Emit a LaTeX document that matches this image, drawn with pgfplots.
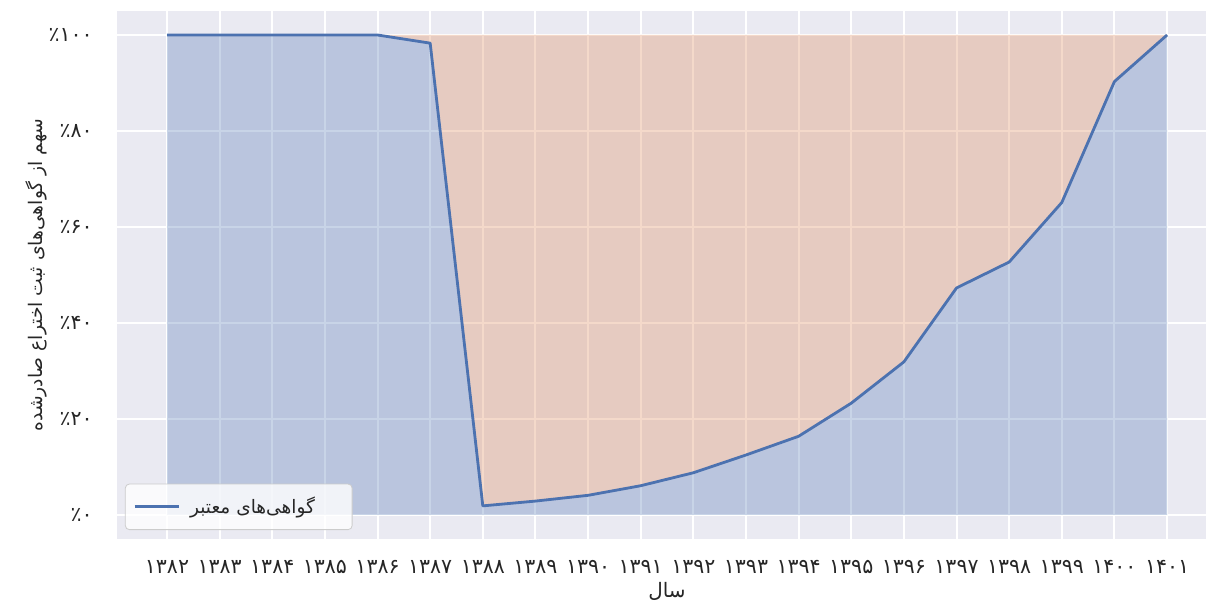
\documentclass[border=0pt]{standalone}
\usepackage{fontspec}
\usepackage{pgfplots}
\pgfplotsset{compat=1.18}
\TeXXeTstate=1
\newfontfamily\arabicfont[Script=Arabic]{DejaVu Sans}
\definecolor{bgc}{HTML}{EAEAF2}
\definecolor{sblue}{HTML}{4C72B0}
\definecolor{sorange}{HTML}{DD8452}
\definecolor{txt}{HTML}{262626}
\begin{document}
\begin{tikzpicture}
\begin{axis}[
  scale only axis, width=544.5bp, height=264bp,
  xmin=1381.05, xmax=1401.74, ymin=-5, ymax=105,
  axis background/.style={fill=bgc},
  axis line style={draw=none},
  major tick length=0pt,
  grid=major, grid style={white, line width=1bp},
  xtick={1382,1383,1384,1385,1386,1387,1388,1389,1390,1391,1392,1393,1394,1395,1396,1397,1398,1399,1400,1401},
  xticklabels={۱۳۸۲,۱۳۸۳,۱۳۸۴,۱۳۸۵,۱۳۸۶,۱۳۸۷,۱۳۸۸,۱۳۸۹,۱۳۹۰,۱۳۹۱,۱۳۹۲,۱۳۹۳,۱۳۹۴,۱۳۹۵,۱۳۹۶,۱۳۹۷,۱۳۹۸,۱۳۹۹,۱۴۰۰,۱۴۰۱},
  ytick={0,20,40,60,80,100},
  yticklabels={٪۰,٪۲۰,٪۴۰,٪۶۰,٪۸۰,٪۱۰۰},
  ticklabel style={font=\arabicfont\fontsize{10.3}{12}\selectfont, text=txt, inner sep=0pt},
  xticklabel style={anchor=north, yshift=-10.5bp},
  yticklabel style={anchor=east, xshift=-12bp},
  xlabel={\arabicfont\beginR سال\endR},
  xlabel style={at={(axis cs:1391.5,-5)}, anchor=north, yshift=-21.5bp, font=\fontsize{10}{12}\selectfont, text=txt, inner sep=0pt},
  ylabel={\arabicfont\beginR سهم از گواهی‌های ثبت اختراع صادرشده\endR},
  ylabel style={at={(rel axis cs:0,0.5)}, anchor=center, yshift=40.5bp, font=\fontsize{9.4}{12}\selectfont, text=txt, inner sep=0pt},
  legend style={at={(rel axis cs:0.0073,0.017)}, anchor=south west, draw=black!20, fill=white, fill opacity=0.8, text opacity=1, rounded corners=2bp, inner xsep=4bp, inner ysep=4.5bp, font=\arabicfont\fontsize{9.3}{12}\selectfont, text=txt},
  legend image code/.code={\draw[#1] (0bp,0bp) -- (22bp,0bp);},
  legend cell align=left,
]
\addplot[fill=sblue, fill opacity=0.3, draw=none, forget plot] coordinates {
(1382,0) (1382,100) (1383,100) (1384,100) (1385,100) (1386,100) (1387,98.3) (1388,1.9) (1389,2.9) (1390,4.1) (1391,6.1) (1392,8.8) (1393,12.5) (1394,16.4) (1395,23.3) (1396,31.9) (1397,47.3) (1398,52.7) (1399,65.1) (1400,90.3) (1401,100) (1401,0)};
\addplot[fill=sorange, fill opacity=0.3, draw=sorange, draw opacity=0.25, line width=0.8bp, forget plot] coordinates {
(1382,100) (1383,100) (1384,100) (1385,100) (1386,100) (1387,98.3) (1388,1.9) (1389,2.9) (1390,4.1) (1391,6.1) (1392,8.8) (1393,12.5) (1394,16.4) (1395,23.3) (1396,31.9) (1397,47.3) (1398,52.7) (1399,65.1) (1400,90.3) (1401,100)};
\addplot[sblue, line width=1.4bp, line join=round] coordinates {
(1382,100) (1383,100) (1384,100) (1385,100) (1386,100) (1387,98.3) (1388,1.9) (1389,2.9) (1390,4.1) (1391,6.1) (1392,8.8) (1393,12.5) (1394,16.4) (1395,23.3) (1396,31.9) (1397,47.3) (1398,52.7) (1399,65.1) (1400,90.3) (1401,100)};
\addlegendentry{\makebox[78bp][l]{\hspace{3bp}\beginR گواهی‌های معتبر\endR}}
\coordinate (ll) at (rel axis cs:0,0);
\coordinate (ur) at (rel axis cs:1,1);
\end{axis}
\pgfresetboundingbox
\path ([shift={(-58.5bp,-32bp)}]ll) rectangle ([shift={(0bp,5.5bp)}]ur);
\end{tikzpicture}
\end{document}
